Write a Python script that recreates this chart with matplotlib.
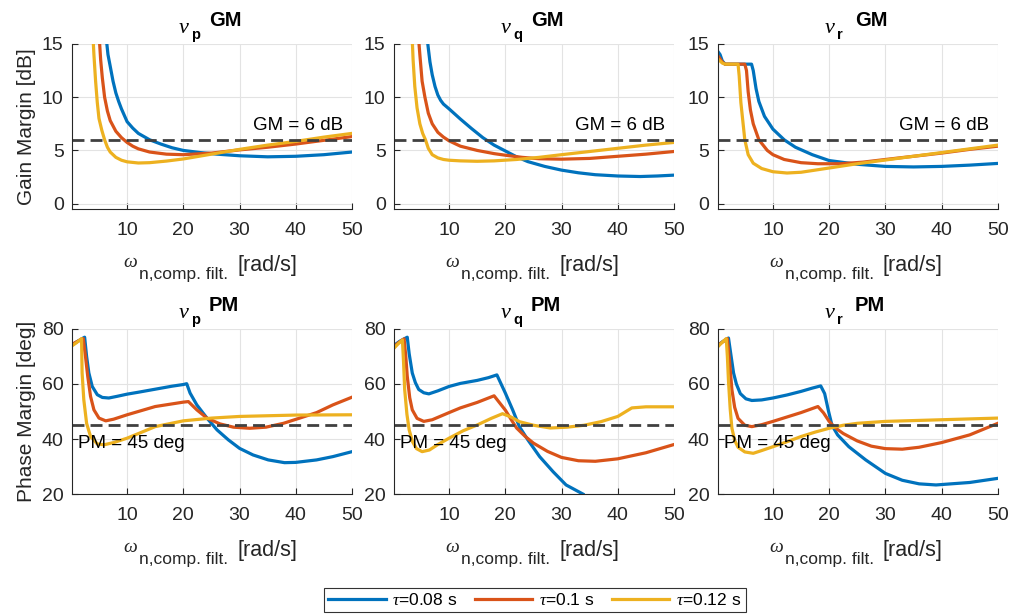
import numpy as np
import matplotlib.pyplot as plt

plt.rcParams['font.family'] = ['Liberation Sans', 'DejaVu Sans']
plt.rcParams['mathtext.fontset'] = 'custom'
plt.rcParams['mathtext.rm'] = 'Liberation Sans'
plt.rcParams['mathtext.it'] = 'Liberation Serif:italic'
plt.rcParams['mathtext.bf'] = 'Liberation Sans:bold'

C_BLUE = '#0072BD'
C_RED = '#D95319'
C_YEL = '#EDB120'
TXT = '#262626'

labels = [r'$\tau$=0.08 s', r'$\tau$=0.1 s', r'$\tau$=0.12 s']
axes_names = ['p', 'q', 'r']

# ---- Gain margin data  (x = omega_n [rad/s], y = GM [dB])
gm_p_blue_x = [6.2, 6.6, 7, 7.5, 8, 8.5, 9, 10, 11, 12, 14, 16, 18, 20, 23, 26, 30, 35, 40, 45, 50]
gm_p_blue_y = [16, 14, 12.9, 11.5, 10.4, 9.6, 8.9, 7.7, 7.1, 6.6, 6.0, 5.6, 5.25, 5.0, 4.8, 4.65, 4.5, 4.4, 4.45, 4.6, 4.85]
gm_p_red_x = [5.0, 5.3, 5.6, 6, 6.5, 7, 8, 9, 10, 11, 12, 14, 17, 20, 25, 30, 35, 40, 45, 50]
gm_p_red_y = [16, 13.5, 11.8, 10.0, 8.7, 7.8, 6.8, 6.2, 5.75, 5.4, 5.15, 4.85, 4.65, 4.6, 4.75, 5.05, 5.3, 5.6, 5.95, 6.3]
gm_p_yel_x = [3.9, 4.1, 4.4, 4.7, 5, 5.5, 6, 6.5, 7, 8, 9, 10, 12, 14, 17, 20, 25, 30, 35, 40, 45, 50]
gm_p_yel_y = [16, 14, 11.5, 9.5, 8.0, 6.9, 6.0, 5.3, 4.85, 4.35, 4.08, 3.93, 3.82, 3.85, 4.0, 4.2, 4.65, 5.1, 5.5, 5.85, 6.25, 6.6]

gm_q_blue_x = [6.0, 6.3, 6.6, 7, 7.5, 8, 8.5, 9, 10, 12, 14, 16, 18, 20, 22, 24, 27, 30, 33, 36, 40, 44, 47, 50]
gm_q_blue_y = [16, 14.6, 13.3, 12.1, 11.0, 10.2, 9.7, 9.35, 8.9, 7.95, 7.05, 6.2, 5.5, 4.95, 4.4, 3.95, 3.5, 3.15, 2.9, 2.72, 2.6, 2.55, 2.6, 2.68]
gm_q_red_x = [4.5, 4.8, 5.2, 5.7, 6.3, 7, 8, 9, 10, 12, 15, 18, 20, 23, 26, 30, 35, 40, 45, 50]
gm_q_red_y = [16, 14, 11.5, 10, 8.5, 7.5, 6.7, 6.25, 5.9, 5.4, 5.0, 4.7, 4.55, 4.35, 4.22, 4.18, 4.25, 4.45, 4.65, 4.9]
gm_q_yel_x = [3.4, 3.6, 3.9, 4.3, 4.8, 5.3, 5.8, 6.3, 7, 8, 9, 10, 12, 15, 18, 22, 26, 30, 35, 40, 45, 50]
gm_q_yel_y = [16, 13.5, 11, 9, 7.5, 6.6, 6.0, 5.2, 4.6, 4.3, 4.15, 4.08, 4.02, 3.98, 4.02, 4.15, 4.35, 4.6, 4.9, 5.2, 5.5, 5.75]

gm_r_blue_x = [0.2, 0.6, 1.0, 1.5, 6.2, 6.5, 7.0, 7.5, 8.5, 10, 12, 14, 17, 20, 25, 30, 35, 40, 45, 50]
gm_r_blue_y = [14.3, 14.0, 13.4, 13.1, 13.1, 12.5, 10.8, 9.6, 8.2, 7.0, 6.0, 5.3, 4.6, 4.05, 3.7, 3.5, 3.45, 3.5, 3.62, 3.78]
gm_r_red_x = [0.2, 1.0, 1.5, 5.0, 5.3, 5.6, 6.0, 6.5, 7.5, 9, 10, 12, 15, 18, 22, 26, 30, 35, 40, 45, 50]
gm_r_red_y = [13.9, 13.3, 13.1, 13.1, 12.5, 10.5, 8.8, 7.5, 6.0, 5.0, 4.6, 4.15, 3.85, 3.75, 3.75, 3.9, 4.15, 4.45, 4.75, 5.1, 5.4]
gm_r_yel_x = [0.2, 1.0, 1.5, 3.8, 4.0, 4.3, 4.7, 5.0, 5.6, 6.5, 8, 10, 12.5, 15, 20, 25, 30, 35, 40, 45, 50]
gm_r_yel_y = [13.6, 13.2, 13.1, 13.1, 12, 9.5, 7.5, 6.0, 4.6, 3.8, 3.3, 3.0, 2.88, 2.95, 3.35, 3.75, 4.1, 4.45, 4.8, 5.15, 5.5]

# ---- Phase margin data  (x = omega_n [rad/s], y = PM [deg])
pm_p_blue_x = [0.3, 1.2, 2.45, 2.8, 3.2, 3.8, 4.7, 5.6, 6.75, 8.2, 10, 12, 15, 18, 20, 20.6, 21.2, 22.4, 24.2, 26, 28, 30, 32.4, 35.1, 38, 40, 43.7, 46.6, 50]
pm_p_blue_y = [74.3, 75.5, 77.0, 70, 64, 59.1, 56.1, 55.1, 54.9, 55.5, 56.3, 57.0, 58.1, 59.2, 59.8, 60.1, 56.7, 52.4, 47.6, 43.3, 39.7, 36.6, 34.2, 32.4, 31.4, 31.5, 32.4, 33.6, 35.4]
pm_p_red_x = [0.3, 1.2, 2.2, 2.6, 3.0, 3.5, 4.1, 5.0, 6.2, 7.6, 10, 15, 20, 20.9, 22.4, 24.2, 26.5, 28.9, 31.8, 34.7, 37.8, 40.7, 43.7, 46.6, 50]
pm_p_red_y = [74.5, 75.5, 76.5, 70, 62.8, 55.5, 50.6, 47.6, 46.6, 47.2, 48.8, 51.8, 53.4, 53.6, 50.6, 47.6, 45.5, 44.3, 43.9, 44.3, 45.7, 47.6, 49.6, 52.4, 55.2]
pm_p_yel_x = [0.3, 1.0, 1.9, 2.0, 2.3, 2.8, 3.5, 4.7, 5.9, 7.6, 10, 12.4, 15, 20, 25, 30, 40, 50]
pm_p_yel_y = [74.0, 75.0, 76.5, 64, 54.3, 45.7, 40.9, 38.2, 37.9, 38.7, 40.3, 42.3, 44.5, 46.6, 47.6, 48.2, 48.7, 48.8]

pm_q_blue_x = [0.2, 1.2, 2.56, 2.9, 3.45, 4.0, 4.6, 5.5, 6.4, 8, 10, 12, 15, 17, 18.5, 20, 21.3, 22.5, 24, 26.1, 28.5, 30.8, 33.8]
pm_q_blue_y = [74, 75.5, 77, 71, 64, 60.5, 58, 56.8, 56.4, 57.5, 59.1, 60.2, 61.3, 62.3, 63.3, 56.7, 50.6, 44.5, 39.7, 33.6, 28.1, 23.3, 20]
pm_q_red_x = [0.2, 1.0, 2.0, 2.3, 2.56, 3.0, 3.45, 4.3, 5.5, 7, 10, 12, 15, 18, 20, 21, 22, 23.5, 25, 27.5, 30, 33, 36, 40, 45, 50]
pm_q_red_y = [73.5, 75, 76.4, 70, 62.8, 55, 50.6, 47.5, 46.4, 47, 49.6, 51.3, 53.3, 55.7, 50.5, 47.2, 44, 41, 38.5, 35.5, 33.3, 32.1, 31.9, 32.8, 35, 38.0]
pm_q_yel_x = [0.2, 0.9, 1.7, 1.9, 2.1, 2.5, 2.9, 3.5, 4.2, 5.2, 6.5, 8, 10, 12.5, 15, 17.5, 19.5, 21, 22.5, 25, 28, 31, 34, 37, 40, 42.5, 45, 50]
pm_q_yel_y = [73, 74.5, 76, 68, 58, 49, 43.3, 39, 36.5, 35.4, 36, 38, 40.3, 43, 45.1, 47.5, 49.2, 48, 46.3, 45, 44, 44.3, 45, 46.3, 48.2, 51.3, 51.7, 51.7]

pm_r_blue_x = [0.2, 1.0, 2.1, 2.5, 3.0, 3.5, 4.2, 5.2, 6.25, 8, 10, 12.5, 15, 17, 18.5, 19.2, 19.9, 20.5, 21.5, 23.5, 26.5, 30, 33, 36, 39, 45, 50]
pm_r_blue_y = [74, 75.3, 76.7, 71, 64, 60, 56.5, 54.6, 54, 54.2, 54.9, 56, 57.3, 58.5, 59.3, 56.5, 50, 45, 41.5, 37.2, 32.4, 27.5, 25, 23.7, 23.3, 24.2, 25.7]
pm_r_red_x = [0.2, 1.0, 1.9, 2.3, 2.7, 3.2, 3.8, 5, 6.25, 8, 10, 12.5, 15, 18, 19, 20, 21, 22.5, 25, 27.5, 30, 33, 36, 40, 45, 50]
pm_r_red_y = [74, 75.2, 76.5, 68, 58, 51.5, 47.5, 45, 44.5, 45.2, 46.4, 48, 49.6, 51.8, 49.5, 46.4, 44.2, 42, 39.3, 37.4, 36.5, 36.3, 37, 38.7, 41.5, 45.7]
pm_r_yel_x = [0.2, 0.9, 1.7, 1.9, 2.1, 2.4, 2.7, 3.2, 3.8, 5, 6.5, 8, 10, 12.5, 15, 17.5, 20, 22.5, 25, 30, 40, 50]
pm_r_yel_y = [73.5, 75, 76.5, 70, 61, 51, 44, 39.5, 37, 35.3, 34.8, 35.8, 37.2, 39, 40.9, 42.5, 43.9, 45, 45.7, 46.4, 47, 47.6]

gm_data = [
    [(gm_p_blue_x, gm_p_blue_y), (gm_p_red_x, gm_p_red_y), (gm_p_yel_x, gm_p_yel_y)],
    [(gm_q_blue_x, gm_q_blue_y), (gm_q_red_x, gm_q_red_y), (gm_q_yel_x, gm_q_yel_y)],
    [(gm_r_blue_x, gm_r_blue_y), (gm_r_red_x, gm_r_red_y), (gm_r_yel_x, gm_r_yel_y)],
]
pm_data = [
    [(pm_p_blue_x, pm_p_blue_y), (pm_p_red_x, pm_p_red_y), (pm_p_yel_x, pm_p_yel_y)],
    [(pm_q_blue_x, pm_q_blue_y), (pm_q_red_x, pm_q_red_y), (pm_q_yel_x, pm_q_yel_y)],
    [(pm_r_blue_x, pm_r_blue_y), (pm_r_red_x, pm_r_red_y), (pm_r_yel_x, pm_r_yel_y)],
]
colors = [C_BLUE, C_RED, C_YEL]

fig = plt.figure(figsize=(10.11, 6.16), dpi=100)

lefts = [0.0712, 0.3897, 0.710]
w = 0.277
h = 0.268
bottoms = [0.6607, 0.198]

PX = 0.72  # points per pixel at 100 dpi


def put(ax, s, x, y, dx, dy, **kw):
    # place text at an offset (pixels) from an axes-fraction anchor
    ax.annotate(s, xy=(x, y), xycoords='axes fraction', xytext=(dx * PX, dy * PX),
                textcoords='offset points', ha='left', va='baseline', **kw)


def style(ax):
    for s in ['top', 'right']:
        ax.spines[s].set_visible(False)
    for s in ['left', 'bottom']:
        ax.spines[s].set_color(TXT)
        ax.spines[s].set_linewidth(0.8)
    ax.tick_params(direction='in', length=4, width=0.8, colors=TXT, labelsize=14)
    ax.tick_params(axis='x', pad=9)
    ax.tick_params(axis='y', pad=6)
    ax.grid(True, color='#e3e3e3', linewidth=0.8)
    ax.set_axisbelow(True)
    ax.set_xlim(0.2, 50)
    ax.set_xticks([10, 20, 30, 40, 50])
    # x label: omega with a big, low subscript, then units
    put(ax, r'$\omega$', 0.5, 0, -89, -58, fontsize=14, color=TXT)
    put(ax, 'n,comp. filt.', 0.5, 0, -73, -70, fontsize=12.5, color=TXT)
    put(ax, '[rad/s]', 0.5, 0, 25, -62, fontsize=15.5, color=TXT)


def title(ax, sub, kind):
    put(ax, r'$\nu$', 0.5, 1, -34, 11, fontsize=16, color='k')
    put(ax, sub, 0.5, 1, -21, 5, fontsize=10.5, fontweight='bold', color='k')
    put(ax, kind, 0.5, 1, -3, 18, fontsize=14.5, fontweight='bold', color='k')


lines = []
for i in range(3):
    ax = fig.add_axes([lefts[i], bottoms[0], w, h])
    style(ax)
    for (x, y), c in zip(gm_data[i], colors):
        ln, = ax.plot(x, y, color=c, lw=2.3, solid_joinstyle='round')
        if i == 0:
            lines.append(ln)
    ax.axhline(6, color='#404040', lw=2, dashes=(4.3, 2.2))
    ax.text(48.5, 6.55, 'GM = 6 dB', ha='right', va='bottom', fontsize=13.5, color='k')
    ax.set_ylim(-0.5, 15)
    ax.set_yticks([0, 5, 10, 15])
    title(ax, axes_names[i], 'GM')
    if i == 0:
        ax.set_ylabel('Gain Margin [dB]', fontsize=15, color=TXT, labelpad=4)

for i in range(3):
    ax = fig.add_axes([lefts[i], bottoms[1], w, h])
    style(ax)
    for (x, y), c in zip(pm_data[i], colors):
        ax.plot(x, y, color=c, lw=2.3, solid_joinstyle='round')
    ax.axhline(45, color='#404040', lw=2, dashes=(4.3, 2.2))
    ax.text(1.3, 38.3, 'PM = 45 deg', ha='left', va='center', fontsize=13.5, color='k')
    ax.set_ylim(20, 80)
    ax.set_yticks([20, 40, 60, 80])
    title(ax, axes_names[i], 'PM')
    if i == 0:
        ax.set_ylabel('Phase Margin [deg]', fontsize=15, color=TXT, labelpad=4)

leg = fig.legend(lines, labels, ncol=3, loc='center', bbox_to_anchor=(0.529, 0.026),
                 fontsize=12.5, frameon=True, fancybox=False, handlelength=3.3,
                 columnspacing=1.0, handletextpad=0.4, borderpad=0.25)
leg.get_frame().set_edgecolor('k')
leg.get_frame().set_linewidth(0.8)

fig.savefig('out.png', dpi=100)
